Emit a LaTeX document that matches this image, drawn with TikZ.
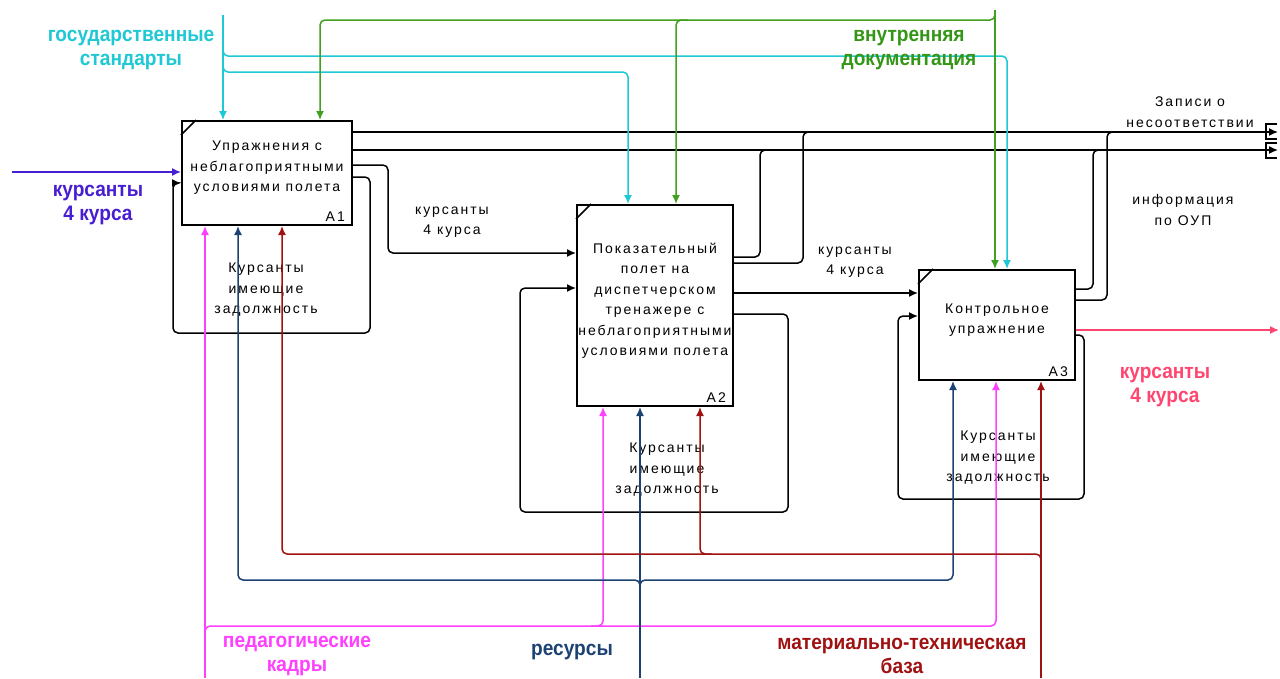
\documentclass[tikz,border=0pt]{standalone}
\usepackage{fontspec}
\setmainfont{Liberation Sans}
\newfontfamily\boxfont[LetterSpace=14]{Liberation Sans}
\newfontfamily\lblfont[FakeStretch=0.91]{Liberation Sans}
\usetikzlibrary{arrows.meta}
\definecolor{cyanc}{RGB}{30,200,212}
\definecolor{greenc}{RGB}{64,160,32}
\definecolor{greent}{RGB}{52,150,22}
\definecolor{violetc}{RGB}{72,30,210}
\definecolor{pinkc}{RGB}{255,70,112}
\definecolor{magc}{RGB}{255,64,255}
\definecolor{navyc}{RGB}{28,66,116}
\definecolor{redc}{RGB}{160,18,18}
\tikzset{
  box/.style={draw, rectangle, line width=2pt, inner sep=0pt},
  conn/.style={line width=1.5pt, rounded corners=5pt},
  arr/.style={-{Latex[length=9pt,width=8pt]}},
  txt/.style={font=\boxfont\fontsize{14}{20.5}\selectfont, align=center, inner sep=0pt},
  blbl/.style={font=\lblfont\bfseries\fontsize{21}{24}\selectfont, align=center, inner sep=0pt},
}
\begin{document}
\begin{tikzpicture}[x=1pt,y=-1pt]
\useasboundingbox (0,0) rectangle (1280,678);
\fill[white] (0,0) rectangle (1280,678);

% boxes
\node[box, minimum width=170pt, minimum height=104pt] (A1) at (267,173) {};
\node[box, minimum width=156pt, minimum height=201pt] (A2) at (655,305.5) {};
\node[box, minimum width=156pt, minimum height=110pt] (A3) at (997,325) {};
\foreach \b in {A1,A2,A3}{
  \draw[line width=1.5pt] (\b.north west) ++(0,15) -- ++(15,-15);
}
\node[txt] (A1t) at (267,168) {Упражнения с\\неблагоприятными\\условиями полета};
\node[txt] (A2t) at (655,301) {Показательный\\полет на\\диспетчерском\\тренажере с\\неблагоприятными\\условиями полета};
\node[txt] (A3t) at (997,320) {Контрольное\\упражнение};
\node[txt, anchor=south east] (A1n) at ([xshift=-8pt,yshift=4pt]A1.south east) {A1};
\node[txt, anchor=south east] (A2n) at ([xshift=-8pt,yshift=4pt]A2.south east) {A2};
\node[txt, anchor=south east] (A3n) at ([xshift=-8pt,yshift=4pt]A3.south east) {A3};

% input
\coordinate (vin) at (12,172);
\draw[conn, arr, violetc] (vin) -- (vin -| A1.west);
\node[blbl, text=violetc] (lvin) at (98,205) {курсанты\\4 курса};

% A1 loop
\draw[conn, arr] (A1.east |- 0,177) -- (370,177) -- (370,333) -- (173,333) -- (173,183) -- (A1.west |- 0,183);
\node[txt] (l1) at (266,290) {Курсанты\\имеющие\\задолжность};

% A1 -> A2
\draw[conn, arr] (A1.east |- 0,165) -- (388,165) -- (388,253) -- (A2.west |- 0,253);
\node[txt] (l12) at (452,222) {курсанты\\4 курса};

% outputs to the right edge
\coordinate (out1) at (1278,132);
\coordinate (out2) at (1278,150);
\draw[conn, arr] (A1.east |- out1) -- (out1);
\draw[conn, arr] (A1.east |- out2) -- (out2);
\draw[line width=1.5pt] (1277,124) -- (1266,124) -- (1266,139) -- (1277,139);
\draw[line width=1.5pt] (1277,143) -- (1266,143) -- (1266,158) -- (1277,158);
\node[txt] (lrec) at (1190,112) {Записи о\\несоответствии};
\node[txt] (linf) at (1183,210) {информация\\по ОУП};

% A2 outputs
\draw[conn] (A2.east |- 0,257) -- (760,257) -- (760,150) -- (772,150);
\draw[conn] (A2.east |- 0,263) -- (803,263) -- (803,132) -- (815,132);
\draw[conn, arr] (A2.east |- 0,293) -- (A3.west |- 0,293);
\node[txt] (l23) at (855,262) {курсанты\\4 курса};

% A2 loop
\draw[conn, arr] (A2.east |- 0,314) -- (788,314) -- (788,512) -- (520,512) -- (520,288) -- (A2.west |- 0,288);
\node[txt] (l2) at (667,470) {Курсанты\\имеющие\\задолжность};

% A3 outputs
\draw[conn] (A3.east |- 0,289) -- (1093,289) -- (1093,150) -- (1105,150);
\draw[conn] (A3.east |- 0,300) -- (1107,300) -- (1107,132) -- (1119,132);
\coordinate (outp) at (1279,330);
\draw[conn, arr, pinkc] (A3.east |- outp) -- (outp);
\node[blbl, text=pinkc] (lout) at (1165,387) {курсанты\\4 курса};

% A3 loop
\draw[conn, arr] (A3.east |- 0,335) -- (1084,335) -- (1084,499) -- (898,499) -- (898,316) -- (A3.west |- 0,316);
\node[txt] (l3) at (998,458) {Курсанты\\имеющие\\задолжность};

% controls: cyan
\coordinate (cs) at (223,15);
\draw[conn, arr, cyanc] (cs) -- (cs |- A1.north);
\draw[conn, arr, cyanc] (223,46) -- (223,56) -- (1007,56) -- (A3.north -| 1007,0);
\draw[conn, arr, cyanc] (223,62) -- (223,72) -- (628,72) -- (A2.north -| 628,0);
\node[blbl, text=cyanc] (lcs) at (131,50) {государственные\\стандарты};

% controls: green
\coordinate (gs) at (995,10);
\draw[conn, arr, greenc] (gs) -- (gs |- A3.north);
\draw[conn, arr, greenc] (995,12) -- (995,20) -- (320,20) -- (A1.north -| 320,0);
\draw[conn, arr, greenc] (688,20) -- (676,20) -- (A2.north -| 676,0);
\node[blbl, text=greent] (lgs) at (909,50) {внутренняя\\документация};

% mechanisms: magenta
\coordinate (ms) at (205,678);
\draw[conn, arr, magc] (ms) -- (ms |- A1.south);
\draw[conn, arr, magc] (205,636) -- (205,626) -- (996,626) -- (A3.south -| 996,0);
\draw[conn, arr, magc] (591,626) -- (603,626) -- (A2.south -| 603,0);
\node[blbl, text=magc] (lms) at (297,656) {педагогические\\кадры};

% mechanisms: navy
\coordinate (ns) at (640,678);
\draw[conn, arr, navyc] (ns) -- (ns |- A2.south);
\draw[conn, arr, navyc] (640,590) -- (640,580) -- (238,580) -- (A1.south -| 238,0);
\draw[conn, arr, navyc] (640,590) -- (640,580) -- (953,580) -- (A3.south -| 953,0);
\node[blbl, text=navyc] (lns) at (572,652) {ресурсы};

% mechanisms: dark red
\coordinate (rs) at (1041,678);
\draw[conn, arr, redc] (rs) -- (rs |- A3.south);
\draw[conn, arr, redc] (1041,564) -- (1041,554) -- (282,554) -- (A1.south -| 282,0);
\draw[conn, arr, redc] (712,554) -- (700,554) -- (A2.south -| 700,0);
\node[blbl, text=redc] (lrs) at (902,656) {материально-техническая\\база};
\end{tikzpicture}
\end{document}
